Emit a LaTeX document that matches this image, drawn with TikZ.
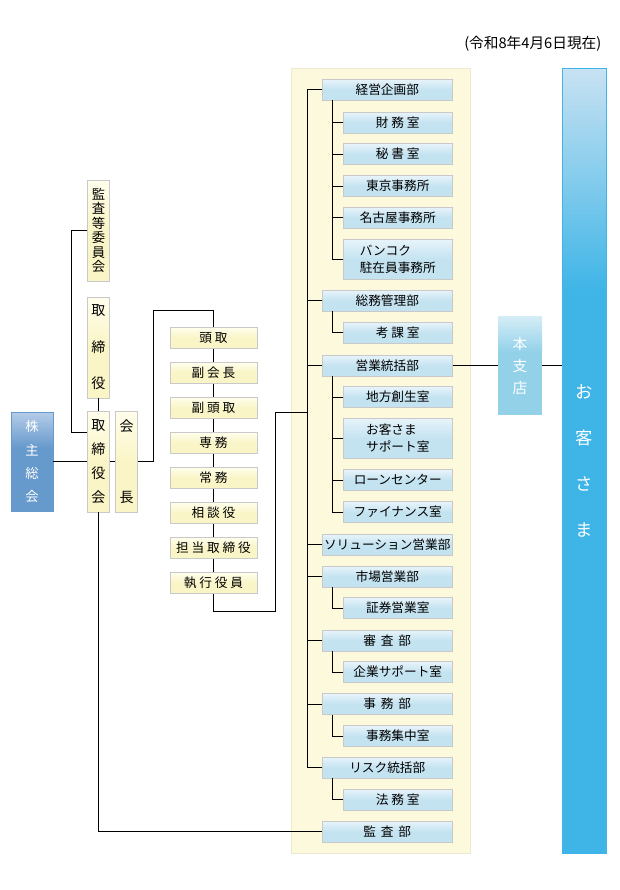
\documentclass[tikz,border=0pt]{standalone}
\usepackage{fontspec}
\setmainfont{Noto Sans CJK JP}
\usepackage{xcolor}
\usetikzlibrary{calc, positioning}

\definecolor{panelfill}{HTML}{FDF9DC}
\definecolor{paneledge}{HTML}{EEEAD2}
\definecolor{boxedge}{HTML}{C9C9C9}
\definecolor{bulight}{HTML}{E8F4FA}
\definecolor{bublue}{HTML}{C4E3F1}
\definecolor{yklight}{HTML}{FFFEEC}
\definecolor{ykyellow}{HTML}{FAF5C6}
\definecolor{kabulight}{HTML}{B4CCE8}
\definecolor{kabublue}{HTML}{6699CC}
\definecolor{shitenlight}{HTML}{D5EDF6}
\definecolor{shitenblue}{HTML}{93D1E9}
\definecolor{kyakulight}{HTML}{C8E2F2}
\definecolor{kyakublue}{HTML}{3FB5E7}

\newcommand{\ma}{\hspace{3.6pt}}

\tikzset{
	sen/.style={line width=0.75pt},
	bu/.style={draw=boxedge, top color=bulight, bottom color=bublue, middle color=bublue,
		minimum width=97.5pt, minimum height=15.75pt, inner sep=0pt, anchor=west,
		font=\fontsize{9.5}{12.75}\selectfont},
	shitsu/.style={bu, minimum width=81.75pt},
	yaku/.style={draw=boxedge, top color=yklight, bottom color=ykyellow, middle color=ykyellow,
		minimum width=65.25pt, minimum height=15.75pt, inner sep=0pt,
		font=\fontsize{9.5}{11}\selectfont},
	tate/.style={draw=boxedge, top color=yklight, bottom color=ykyellow, middle color=ykyellow,
		minimum width=16.5pt, minimum height=75.75pt, inner sep=0pt, align=center},
	kabu/.style={draw=kabublue, minimum width=31.5pt, minimum height=74.25pt, inner sep=0pt,
		align=center, text=white, font=\fontsize{10}{17.3}\selectfont},
	shiten/.style={minimum width=33pt, minimum height=74.25pt, inner sep=0pt,
		align=center, text=white, font=\fontsize{11}{16.5}\selectfont},
	kyaku/.style={draw=kyakublue, minimum width=33pt, minimum height=588.75pt, inner sep=0pt,
		align=center, text=white, font=\fontsize{13}{34.5}\selectfont}
}

\begin{document}
\begin{tikzpicture}[x=0.75pt, y=-0.75pt]
	%canvas
	\useasboundingbox (0,0) rectangle (619,890);
	
	%panel behind the departments
	\filldraw[fill=panelfill, draw=paneledge] (291,68) rectangle (470,853);
	
	%coloured grounds of the blue boxes
	\fill[kabublue] (11,412) rectangle (53,511);
	\shade[top color=kabulight, bottom color=kabublue] (11,412) rectangle (53,448);
	\fill[shitenblue] (498,316) rectangle (542,415);
	\shade[top color=shitenlight, bottom color=shitenblue] (498,316) rectangle (542,352);
	\fill[kyakublue] (562,68) rectangle (606,853);
	\shade[top color=kyakulight, bottom color=kyakublue] (562,68) rectangle (606,290);
	
	%x positions of the trunk lines
	\coordinate (trunk) at (307,0);
	\coordinate (sub) at (332,0);
	
	\node[anchor=east, font=\fontsize{11}{13}\selectfont] (date) at (606,44) {(令和8年4月6日現在)};
	
	%left side
	\node[kabu] (kabunushi) at (32,461.5) {株\\主\\総\\会};
	\node[tate, font=\fontsize{10.5}{18}\selectfont] (torikai) at (98.5,461.5) {取\\締\\役\\会};
	\node[tate, font=\fontsize{10.5}{53}\selectfont] (kaicho) at (126.5,461.5) {会\\長};
	\node[tate, font=\fontsize{10.5}{27.4}\selectfont] (torishimari) at (98.5,347.5) {取\\締\\役};
	\node[tate, font=\fontsize{10}{10.9}\selectfont] (kansa) at (98.5,230.5) {監\\査\\等\\委\\員\\会};
	
	%officers
	\foreach \name/\txt [count=\i from 0] in {tohdori/頭 取, fukukaicho/副 会 長, fukutohdori/副 頭 取,
		senmu/専 務, jomu/常 務, sodan/相 談 役, tanto/担 当 取 締 役, shikko/執 行 役 員}
		\node[yaku] (\name) at (213.5,338+35*\i) {\txt};
	\foreach \a/\b in {tohdori/fukukaicho, fukukaicho/fukutohdori, fukutohdori/senmu, senmu/jomu,
		jomu/sodan, sodan/tanto, tanto/shikko}
		\draw[sen] (\a) -- (\b);
	
	%departments
	\node[bu] (keiei) at (322,89.5) {経営企画部};
	\node[shitsu] (zaimu) at (343,122.5) {財 務 室};
	\node[shitsu] (hisho) at (343,154) {秘 書 室};
	\node[shitsu] (tokyo) at (343,186) {東京事務所};
	\node[shitsu] (nagoya) at (343,217.5) {名古屋事務所};
	\node[shitsu, minimum height=30pt, align=left] (bangkok) at (343,259) {バンコク\\駐在員事務所};
	\node[bu] (somu) at (322,300.5) {総務管理部};
	\node[shitsu] (kouka) at (343,332.5) {考 課 室};
	\node[bu] (eigyo) at (322,365.5) {営業統括部};
	\node[shitsu] (chiho) at (343,397) {地方創生室};
	\node[shitsu, minimum height=30pt, align=left] (cs) at (343,438) {お客さま\\サポート室};
	\node[shitsu] (loan) at (343,480) {ローンセンター};
	\node[shitsu] (finance) at (343,512) {ファイナンス室};
	\node[bu] (solution) at (322,544.5) {ソリューション営業部};
	\node[bu] (shijo) at (322,576.5) {市場営業部};
	\node[shitsu] (shoken) at (343,608) {証券営業室};
	\node[bu] (shinsa) at (322,640.5) {審\ma 査\ma 部};
	\node[shitsu] (kigyo) at (343,672) {企業サポート室};
	\node[bu] (jimu) at (322,704) {事\ma 務\ma 部};
	\node[shitsu] (shuchu) at (343,736) {事務集中室};
	\node[bu] (risk) at (322,767.5) {リスク統括部};
	\node[shitsu] (homu) at (343,799.5) {法 務 室};
	\node[bu] (kansabu) at (322,831.5) {監\ma 査\ma 部};
	
	%right side
	\node[shiten] (honshiten) at (520,365.5) {本\\支\\店};
	\node[kyaku] (okyaku) at (584,460.5) {お\\客\\さ\\ま};
	
	%connectors on the left
	\draw[sen] (kabunushi) -- (torikai);
	\draw[sen] (torikai) -- (kaicho);
	\draw[sen] (torishimari) -- (torikai);
	\draw[sen] (kansa.west) -- ++(-16,0) |- ($(torikai.west)+(0,-29.5)$);
	\draw[sen] (kaicho.east) -- ++(16,0) |- ($(tohdori.north)+(0,-17)$) -- (tohdori.north);
	\draw[sen] (shikko.south) -- ++(0,17.5) -- ++(61.5,0) |- ($(trunk)+(0,412)$);
	\draw[sen] (torikai.south) |- (kansabu.west);
	
	%trunk and branches
	\draw[sen] (keiei.west -| trunk) -- (risk.west -| trunk);
	\foreach \n in {keiei, somu, eigyo, solution, shijo, shinsa, jimu, risk}
		\draw[sen] (\n.west) -- (\n.west -| trunk);
	\foreach \p/\last in {keiei/bangkok, somu/kouka, eigyo/finance, shijo/shoken, shinsa/kigyo, jimu/shuchu, risk/homu}
		\draw[sen] (\p.south -| sub) |- (\last.west);
	\foreach \n in {zaimu, hisho, tokyo, nagoya, chiho, cs, loan}
		\draw[sen] (\n.west) -- (\n.west -| sub);
	
	%to the branches and the customers
	\draw[sen] (eigyo.east) -- (honshiten.west);
	\draw[sen] (honshiten.east) -- (honshiten.east -| okyaku.west);
\end{tikzpicture}
\end{document}
